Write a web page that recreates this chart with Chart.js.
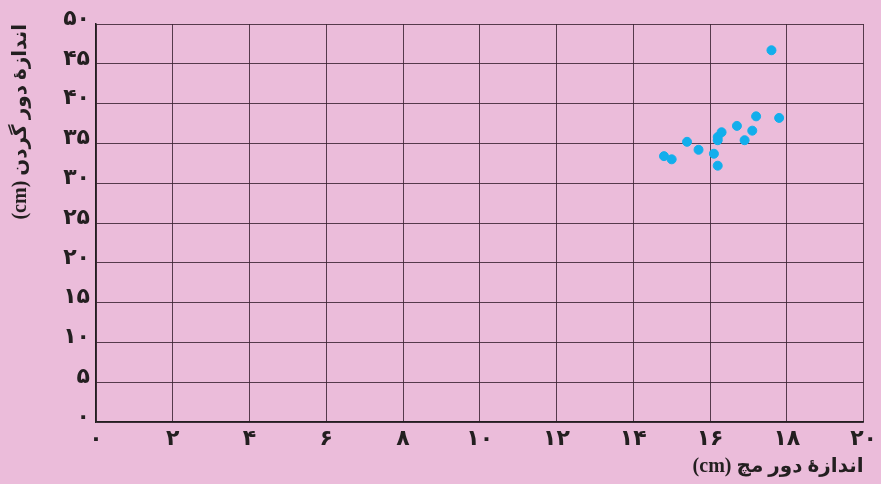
<!DOCTYPE html>
<html>
<head>
<meta charset="utf-8">
<script src="https://cdn.jsdelivr.net/npm/chart.js@4/dist/chart.umd.min.js"></script>
<style>
  html, body { margin: 0; padding: 0; background: #ebbcda; }
  #wrap { width: 881px; height: 484px; }
</style>
</head>
<body>
<div id="wrap"><canvas id="scatter" dir="rtl"></canvas></div>
<script>
// wrist size (cm) vs neck size (cm)
const wrist = [17.6, 14.8, 15.0, 15.4, 15.7, 16.1, 16.2, 16.2, 16.2, 16.3, 16.7, 16.9, 17.1, 17.2, 17.8];
const neck  = [46.7, 33.4, 33.0, 35.2, 34.2, 33.7, 32.2, 35.8, 35.4, 36.4, 37.2, 35.4, 36.6, 38.4, 38.2];

const xTitle = 'اندازهٔ دور مچ (cm)';
const yTitle = 'اندازهٔ دور گردن (cm)';

const faDigits = '۰۱۲۳۴۵۶۷۸۹';
const toFa = v => String(v).replace(/\d/g, d => faDigits[d]);

const points = wrist.map((x, i) => ({ x: x, y: neck[i] }));

const gridColor = 'rgba(60, 35, 50, 0.85)';
const tickFont = { family: 'DejaVu Sans', size: 22, weight: 'bold' };
const titleFont = { family: '"Liberation Serif", "DejaVu Sans"', size: 20, weight: 'bold' };

new Chart(document.getElementById('scatter').getContext('2d'), {
  type: 'scatter',
  data: {
    datasets: [{
      data: points,
      backgroundColor: '#12aeec',
      borderColor: '#12aeec',
      pointRadius: 4.5,
      pointHoverRadius: 4.5
    }]
  },
  options: {
    responsive: true,
    maintainAspectRatio: false,
    animation: false,
    layout: { padding: { top: 24, right: 16, left: 0, bottom: 0 } },
    plugins: { legend: { display: false }, tooltip: { enabled: false } },
    scales: {
      x: {
        min: 0, max: 20,
        afterFit: s => { s.height = 62; },
        border: { color: '#231f20', width: 1.5 },
        grid: { color: gridColor, lineWidth: 1, drawTicks: false },
        ticks: { stepSize: 2, padding: 4, color: '#231f20', font: tickFont, maxRotation: 0,
                 callback: v => toFa(v) },
        title: { display: true, text: xTitle, align: 'end', color: '#231f20', font: titleFont,
                 padding: { top: 0, bottom: 5 } }
      },
      y: {
        min: 0, max: 50,
        afterFit: s => { s.width = 96; },
        border: { color: '#231f20', width: 1.5 },
        grid: { color: gridColor, lineWidth: 1, drawTicks: false },
        ticks: { stepSize: 5, padding: 6, labelOffset: -5, color: '#231f20', font: tickFont,
                 callback: v => toFa(v) },
        title: { display: true, text: yTitle, align: 'end', color: '#231f20', font: titleFont,
                 padding: { top: 9, bottom: 0 } }
      }
    }
  }
});
</script>
</body>
</html>
